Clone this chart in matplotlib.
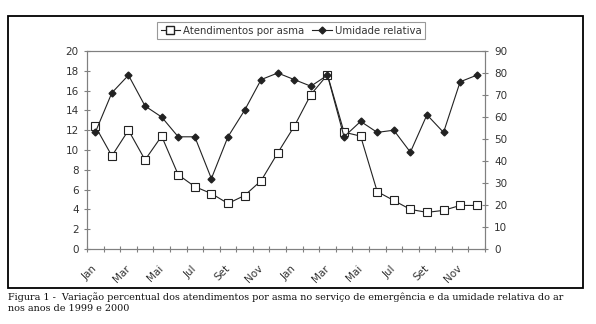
import matplotlib.pyplot as plt
from matplotlib.patches import Rectangle
from matplotlib.lines import Line2D
import numpy as np

months = ['Jan', 'Fev', 'Mar', 'Abr', 'Mai', 'Jun', 'Jul', 'Ago', 'Set', 'Out', 'Nov', 'Dez'] * 2
tick_labels = ['Jan', 'Mar', 'Mai', 'Jul', 'Set', 'Nov'] * 2

asma = [12.4, 9.4, 12.0, 9.0, 11.4, 7.5, 6.3, 5.6, 4.6, 5.4, 6.9, 9.7,
        12.4, 15.6, 17.6, 11.8, 11.4, 5.8, 4.9, 4.0, 3.7, 3.9, 4.4, 4.4]
umidade = [53, 71, 79, 65, 60, 51, 51, 32, 51, 63, 77, 80,
           77, 74, 79, 51, 58, 53, 54, 44, 61, 53, 76, 79]

caption = ('Figura 1 -  Variação percentual dos atendimentos por asma no serviço de '
           'emergência e da umidade relativa do ar\nnos anos de 1999 e 2000')

W, H = 596, 324
fig = plt.figure(figsize=(W / 100, H / 100), dpi=100)
fig.patch.set_facecolor('white')

# outer frame of the figure panel
fig.patches.append(Rectangle((8 / W, 1 - 288 / H), 575 / W, 272 / H, transform=fig.transFigure,
                             fill=False, edgecolor='black', linewidth=1.3))

ax = fig.add_axes([87 / W, 1 - 249 / H, 398 / W, 198 / H])
x = np.arange(len(months))
gray = '#808080'
tfont = dict(family='DejaVu Sans', size=7.5, color='#333333')

ax.plot(x, asma, color='#222222', lw=0.8, marker='s', ms=5.5, mfc='white', mec='#222222', mew=0.8)
ax.set_xlim(-0.5, len(months) - 0.5)
ax.set_ylim(0, 20)
ax.set_yticks(range(0, 21, 2))
ax.set_yticklabels([str(v) for v in range(0, 21, 2)], fontdict=tfont)
ax.set_xticks(np.arange(-0.5, len(months), 1))
ax.set_xticklabels([])
ax.set_xticks(x[::2], minor=True)
ax.set_xticklabels(tick_labels, minor=True, fontdict=tfont, rotation=45,
                   ha='right', va='center', rotation_mode='anchor')
ax.tick_params(axis='x', which='minor', length=0, pad=13)
ax.tick_params(which='major', direction='inout', length=5, color=gray, width=0.8)
for s in ax.spines.values():
    s.set_color(gray)
    s.set_linewidth(0.8)

ax2 = ax.twinx()
ax2.plot(x, umidade, color='#222222', lw=0.8, marker='D', ms=3.5, mfc='#222222', mec='#222222')
ax2.set_ylim(0, 90)
ax2.set_yticks(range(0, 91, 10))
ax2.set_yticklabels([str(v) for v in range(0, 91, 10)], fontdict=tfont)
ax2.tick_params(direction='inout', length=5, color=gray, width=0.8, pad=4)
for s in ax2.spines.values():
    s.set_color(gray)
    s.set_linewidth(0.8)

handles = [Line2D([], [], color='#222222', lw=0.8, marker='s', ms=5.5, mfc='white', mec='#222222'),
           Line2D([], [], color='#222222', lw=0.8, marker='D', ms=3.5, mfc='#222222')]
leg = fig.legend(handles, ['Atendimentos por asma', 'Umidade relativa'], ncol=2,
                 loc='center', bbox_to_anchor=(291 / W, 1 - 30.5 / H), frameon=True,
                 fancybox=False, edgecolor=gray, handlelength=1.9, handletextpad=0.3,
                 columnspacing=0.8, borderpad=0.35, prop=dict(family='DejaVu Sans', size=7.3))
leg.get_frame().set_linewidth(0.8)
for t in leg.get_texts():
    t.set_color('#333333')

fig.text(8 / W, 1 - 292 / H, caption, ha='left', va='top', family='DejaVu Serif',
         size=6.95, linespacing=1.35, color='#111111')

fig.savefig('out.png', dpi=100)
